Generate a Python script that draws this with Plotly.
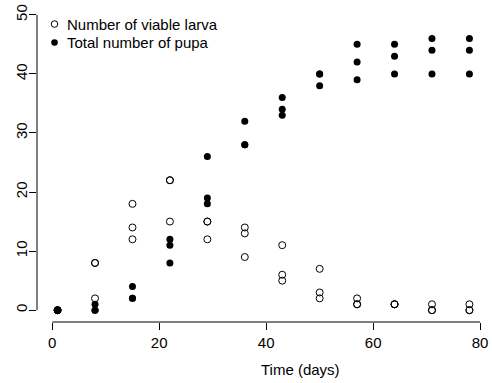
import plotly.graph_objects as go

# Sampling days (three replicate counts per day)
days = [1, 8, 15, 22, 29, 36, 43, 50, 57, 64, 71, 78]

larva_rep1 = [0, 8, 18, 22, 15, 14, 11, 7, 2, 1, 1, 1]
larva_rep2 = [0, 8, 14, 22, 15, 13, 6, 3, 1, 1, 0, 0]
larva_rep3 = [0, 2, 12, 15, 12, 9, 5, 2, 1, 1, 0, 0]

pupa_rep1 = [0, 1, 4, 12, 26, 32, 36, 40, 45, 45, 46, 46]
pupa_rep2 = [0, 0, 2, 11, 19, 28, 34, 40, 42, 43, 44, 44]
pupa_rep3 = [0, 0, 2, 8, 18, 28, 33, 38, 39, 40, 40, 40]

x_ticks = [0, 20, 40, 60, 80]
y_ticks = [0, 10, 20, 30, 40, 50]

series_names = ["Number of viable larva", "Total number of pupa"]

FONT = "Liberation Sans, Arial, Helvetica, sans-serif"

larva_x = days * 3
larva_y = larva_rep1 + larva_rep2 + larva_rep3
pupa_x = days * 3
pupa_y = pupa_rep1 + pupa_rep2 + pupa_rep3

open_marker = dict(symbol="circle-open", size=7, color="black", line=dict(width=1, color="black"))
filled_marker = dict(symbol="circle", size=7, color="black", line=dict(width=0))

fig = go.Figure()
fig.add_trace(go.Scatter(x=larva_x, y=larva_y, mode="markers", name=series_names[0],
                         marker=open_marker))
fig.add_trace(go.Scatter(x=pupa_x, y=pupa_y, mode="markers", name=series_names[1],
                         marker=filled_marker))

# Axis lines span only the tick range, base-graphics style
fig.add_shape(type="line", xref="x", yref="paper", x0=x_ticks[0], x1=x_ticks[-1], y0=0, y1=0,
              line=dict(color="black", width=1))
fig.add_shape(type="line", xref="paper", yref="y", x0=0, x1=0, y0=y_ticks[0], y1=y_ticks[-1],
              line=dict(color="black", width=1))

# Compact legend in the top-left corner: pixel-sized symbols plus labels
legend_sym_x = 0.039
legend_txt_x = 0.062
legend_rows_y = [0.934, 0.876]
for name, row_y, filled in zip(series_names, legend_rows_y, [False, True]):
    fig.add_shape(type="circle", xref="paper", yref="paper",
                  xsizemode="pixel", ysizemode="pixel",
                  xanchor=legend_sym_x, yanchor=row_y,
                  x0=-3.3, x1=3.3, y0=-3.3, y1=3.3,
                  line=dict(color="black", width=0 if filled else 1),
                  fillcolor="black" if filled else "rgba(0,0,0,0)")
    fig.add_annotation(text=name, xref="paper", yref="paper", x=legend_txt_x, y=row_y,
                       xanchor="left", yanchor="middle", showarrow=False,
                       font=dict(family=FONT, size=15, color="black"))

fig.add_annotation(text="Time (days)", xref="x", yref="paper", x=46.5, y=-0.148,
                   xanchor="center", yanchor="middle", showarrow=False,
                   font=dict(family=FONT, size=15, color="black"))

fig.update_xaxes(range=[-2.85, 81.1], tickvals=x_ticks, ticks="outside", ticklen=7,
                 tickwidth=1, tickcolor="black", showline=False, showgrid=False,
                 zeroline=False, ticklabelstandoff=0,
                 tickfont=dict(family=FONT, size=15, color="black"))
fig.update_yaxes(range=[-2, 52], tickvals=y_ticks, ticks="outside", ticklen=7,
                 tickwidth=1, tickcolor="black", showline=False, showgrid=False,
                 zeroline=False, tickangle=-90, ticklabelstandoff=-4,
                 tickfont=dict(family=FONT, size=15, color="black"))

fig.update_layout(
    width=492, height=383,
    margin=dict(l=37, r=6, t=3, b=61),
    paper_bgcolor="white", plot_bgcolor="white",
    showlegend=False,
)

fig.write_html("out.html")
